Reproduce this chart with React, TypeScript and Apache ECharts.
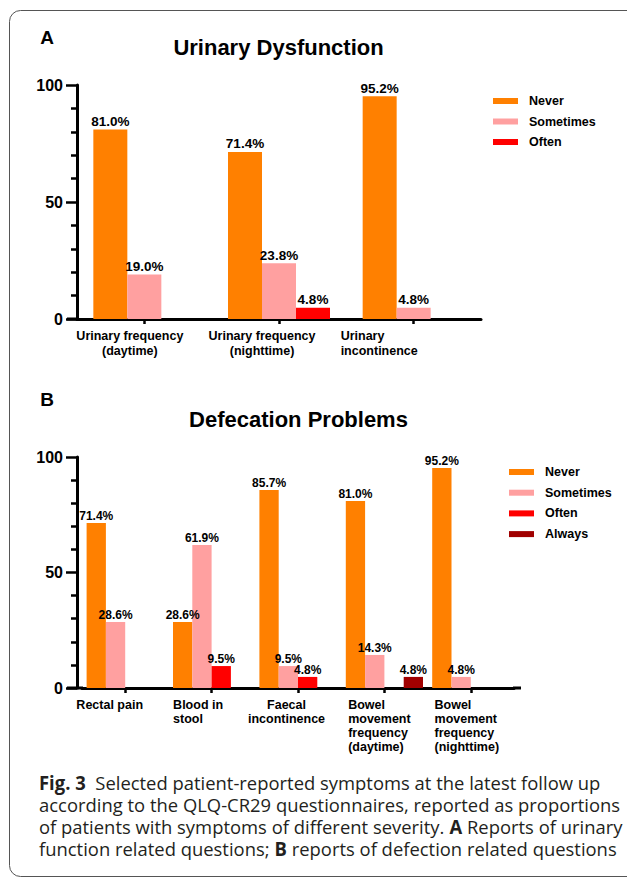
import React, { useEffect, useRef } from "react";
import * as echarts from "echarts";

const FONT = '"Liberation Sans", Arial, Helvetica, sans-serif';
const CAPTION_FONT = '"Open Sans", "Noto Sans", sans-serif';

// ---- data ----
const seriesNames = ["Never", "Sometimes", "Often", "Always"];
const seriesColors = ["#FF8000", "#FFA0A0", "#FF0000", "#A00000"];

const urinaryTitle = "Urinary Dysfunction";
const urinaryCategories = [
  "Urinary frequency\n(daytime)",
  "Urinary frequency\n(nighttime)",
  "Urinary\nincontinence",
];
const urinaryNever = [81.0, 71.4, 95.2];
const urinarySometimes = [19.0, 23.8, 4.8];
const urinaryOften = [null, 4.8, null];

const defecationTitle = "Defecation Problems";
const defecationCategories = [
  "Rectal pain",
  "Blood in\nstool",
  "Faecal\nincontinence",
  "Bowel\nmovement\nfrequency\n(daytime)",
  "Bowel\nmovement\nfrequency\n(nighttime)",
];
const defecationNever = [71.4, 28.6, 85.7, 81.0, 95.2];
const defecationSometimes = [28.6, 61.9, 9.5, 14.3, 4.8];
const defecationOften = [null, 9.5, 4.8, null, null];
const defecationAlways = [null, null, null, 4.8, null];

const yMin = 0;
const yMax = 100;
const yInterval = 50;

const captionLines = [
  "{b|Fig. 3}  Selected patient-reported symptoms at the latest follow up",
  "according to the QLQ-CR29 questionnaires, reported as proportions",
  "of patients with symptoms of different severity. {b|A} Reports of urinary",
  "function related questions; {b|B} reports of defection related questions",
];

// ---- label layout styles (per category) ----
const urinaryLabelAlign = ["center", "center", "left"];
const urinaryLabelPad = [29, 34, 69];
const defecationLabelAlign = ["center", "left", "center", "left", "left"];
const defecationLabelPad = [31, 27, 23, 10, 8];

function makeRich(aligns: string[], pads: number[], fontSize: number, lineHeight: number) {
  const rich: Record<string, any> = {};
  aligns.forEach((a, i) => {
    rich["c" + i] = {
      align: a,
      padding: [0, pads[i], 0, 0],
      fontSize,
      lineHeight,
      fontWeight: "bold",
      fontFamily: FONT,
      color: "#000",
    };
  });
  return rich;
}

function labelFormatter(value: string, idx: number) {
  return value
    .split("\n")
    .map((l) => `{c${idx}|${l}}`)
    .join("\n");
}

function bar(name: string, data: (number | null)[], axis: number, barWidth: number, fontSize: number) {
  const color = seriesColors[seriesNames.indexOf(name)];
  return {
    type: "bar",
    name,
    data,
    xAxisIndex: axis,
    yAxisIndex: axis,
    barWidth,
    barGap: "0%",
    itemStyle: { color },
    label: {
      show: true,
      position: "top",
      distance: 1,
      formatter: (p: any) => (p.value == null ? "" : `${Number(p.value).toFixed(1)}%`),
      fontFamily: FONT,
      fontWeight: "bold",
      fontSize,
      color: "#000",
    },
    emphasis: { disabled: true },
  };
}

function yAxis(gridIndex: number, offset: number) {
  return {
    type: "value",
    gridIndex,
    min: yMin,
    max: yMax,
    interval: yInterval,
    offset,
    axisLine: { show: true, lineStyle: { color: "#000", width: 3 } },
    axisTick: { show: true, length: 11, lineStyle: { color: "#000", width: 2.5 } },
    minorTick: { show: true, splitNumber: 5, length: 6, lineStyle: { color: "#000", width: 2.5 } },
    axisLabel: { margin: 14, fontSize: 16, fontWeight: "bold", color: "#000", fontFamily: FONT },
    splitLine: { show: false },
  };
}

function xAxis(gridIndex: number, data: string[], margin: number, rich: any) {
  return {
    type: "category",
    gridIndex,
    data,
    boundaryGap: true,
    axisLine: { show: true, lineStyle: { color: "#000", width: 3 } },
    axisTick: { show: true, alignWithLabel: true, length: 5, lineStyle: { color: "#000", width: 2.5 } },
    axisLabel: { interval: 0, margin, formatter: labelFormatter, rich, color: "#000" },
    splitLine: { show: false },
  };
}

function legend(names: string[], left: number, top: number, itemGap: number) {
  return {
    orient: "vertical",
    left,
    top,
    itemWidth: 25,
    itemHeight: 6,
    itemGap,
    icon: "rect",
    data: names,
    selectedMode: false,
    textStyle: {
      fontFamily: FONT,
      fontWeight: "bold",
      fontSize: 12.5,
      lineHeight: 14,
      color: "#000",
      padding: [0, 0, 0, 6],
    },
  };
}

function txt(text: string, x: number, y: number, fontSize: number) {
  return {
    type: "text",
    x,
    y,
    silent: true,
    style: {
      text,
      fill: "#000",
      fontFamily: FONT,
      fontWeight: "bold",
      fontSize,
      align: "center",
      verticalAlign: "middle",
      textAlign: "center",
      textVerticalAlign: "middle",
    },
  };
}

const option: any = {
  animation: false,
  backgroundColor: "#fff",
  grid: [
    { left: 77, top: 85, width: 404, height: 234 },
    { left: 82, top: 457, width: 432, height: 231 },
  ],
  xAxis: [
    xAxis(0, urinaryCategories, 9, makeRich(urinaryLabelAlign, urinaryLabelPad, 12.5, 15)),
    xAxis(1, defecationCategories, 10, makeRich(defecationLabelAlign, defecationLabelPad, 12.5, 14)),
  ],
  yAxis: [yAxis(0, 0), yAxis(1, 5)],
  legend: [
    legend(seriesNames.slice(0, 3), 488, 89, 6.5),
    legend(seriesNames, 504, 460, 6.7),
  ],
  series: [
    bar("Never", urinaryNever, 0, 34, 13.5),
    bar("Sometimes", urinarySometimes, 0, 34, 13.5),
    bar("Often", urinaryOften, 0, 34, 13.5),
    bar("Never", defecationNever, 1, 19.3, 12),
    bar("Sometimes", defecationSometimes, 1, 19.3, 12),
    bar("Often", defecationOften, 1, 19.3, 12),
    bar("Always", defecationAlways, 1, 19.3, 12),
  ],
  graphic: [
    {
      type: "rect",
      silent: true,
      shape: { x: 9.5, y: 10.5, width: 700, height: 866, r: 11 },
      style: { fill: "none", stroke: "#555", lineWidth: 1 },
    },
    txt("A", 47, 37, 19),
    txt("B", 47, 399, 19),
    txt(urinaryTitle, 278.5, 47, 22),
    txt(defecationTitle, 298.5, 419, 22),
    {
      type: "line",
      silent: true,
      shape: { x1: 67, y1: 319, x2: 78, y2: 319 },
      style: { stroke: "#000", lineWidth: 3 },
    },
    {
      type: "line",
      silent: true,
      shape: { x1: 67, y1: 688, x2: 83, y2: 688 },
      style: { stroke: "#000", lineWidth: 3 },
    },
    {
      type: "line",
      silent: true,
      shape: { x1: 513, y1: 688, x2: 521, y2: 688 },
      style: { stroke: "#000", lineWidth: 3 },
    },
    {
      type: "text",
      x: 39,
      y: 771,
      scaleX: 0.97,
      silent: true,
      style: {
        text: captionLines.join("\n"),
        fill: "#231F20",
        fontFamily: CAPTION_FONT,
        fontSize: 19,
        lineHeight: 22,
        align: "left",
        verticalAlign: "top",
        textAlign: "left",
        textVerticalAlign: "top",
        rich: {
          b: {
            fontFamily: CAPTION_FONT,
            fontSize: 19,
            lineHeight: 22,
            fontWeight: "bold",
            fill: "#231F20",
          },
        },
      },
    },
  ],
};

export default function App() {
  const ref = useRef<HTMLDivElement>(null);
  useEffect(() => {
    document.body.style.margin = "0";
    const chart = echarts.init(ref.current as HTMLDivElement, null, { renderer: "svg" });
    chart.setOption(option);
    return () => chart.dispose();
  }, []);
  return <div ref={ref} style={{ width: 627, height: 877, background: "#fff" }} />;
}
